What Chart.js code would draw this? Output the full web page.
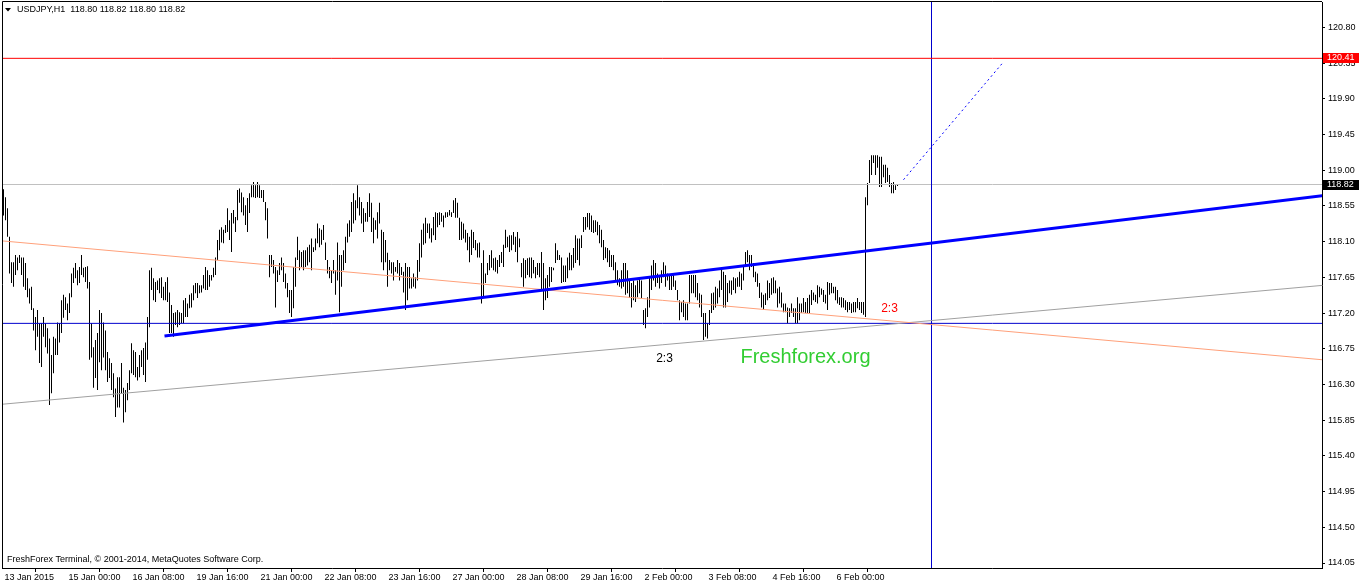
<!DOCTYPE html>
<html>
<head>
<meta charset="utf-8">
<title>USDJPY,H1</title>
<script src="https://cdn.jsdelivr.net/npm/chart.js@4.4.1/dist/chart.umd.min.js"></script>
<style>
  html, body { margin: 0; padding: 0; background: #fff; }
  #wrap { width: 1362px; height: 586px; }
</style>
</head>
<body>
<div id="wrap"><canvas id="chart" width="1362" height="586"></canvas></div>
<script>
/***********************
 * DATA (H1 bars, high / low)
 ***********************/
const highs = [
  118.76,118.66,118.52,118.16,117.84,117.84,117.93,117.90,117.93,117.90,
  117.90,117.83,117.64,117.51,117.53,117.26,117.15,117.24,117.07,117.07,
  117.15,117.07,117.01,116.88,116.67,116.90,116.88,117.08,117.07,117.36,
  117.43,117.40,117.32,117.45,117.70,117.77,117.83,117.74,117.78,117.93,
  117.77,117.78,117.79,117.59,117.07,116.77,116.86,116.95,117.24,117.20,
  117.08,116.98,116.71,116.63,116.57,116.44,116.25,116.39,116.39,116.57,
  116.26,116.23,116.32,116.48,116.82,116.73,116.71,116.52,116.67,116.73,
  116.76,116.83,117.15,117.74,117.77,117.64,117.59,117.61,117.64,117.65,
  117.53,117.59,117.65,117.46,117.30,117.20,117.21,117.24,117.21,117.20,
  117.36,117.39,117.32,117.43,117.45,117.55,117.58,117.58,117.55,117.55,
  117.68,117.78,117.74,117.68,117.68,117.77,117.90,118.12,118.25,118.28,
  118.25,118.31,118.52,118.37,118.46,118.50,118.41,118.75,118.77,118.72,
  118.66,118.56,118.65,118.71,118.81,118.85,118.81,118.85,118.81,118.75,
  118.75,118.60,118.52,117.93,117.93,117.87,117.78,117.74,117.83,117.90,
  117.83,117.70,117.58,117.49,117.49,117.78,117.90,118.16,
  117.99,117.97,117.99,117.99,118.03,118.06,118.14,118.03,118.14,118.33,118.27,118.25,
  118.31,118.09,117.87,117.78,117.74,117.87,117.74,118.09,117.93,117.93,
  117.99,118.16,118.33,118.37,118.60,118.71,118.62,118.81,118.66,118.60,
  118.52,118.46,118.60,118.71,118.59,118.40,118.37,118.47,118.59,118.25,
  118.22,118.12,117.96,117.87,117.84,117.84,117.78,117.87,117.83,117.78,
  117.72,117.83,117.78,117.78,117.64,117.70,117.65,117.87,118.08,118.25,
  118.33,118.40,118.33,118.33,118.27,118.41,118.47,118.46,118.47,118.46,
  118.43,118.47,118.47,118.50,118.47,118.62,118.65,118.59,118.40,118.35,
  118.33,118.25,118.21,118.16,118.25,118.22,118.12,118.08,118.09,117.83,
  117.99,117.70,117.83,117.93,117.99,117.89,117.90,117.87,117.93,117.97,
  118.06,118.25,118.16,118.18,118.18,118.22,118.16,118.22,118.14,117.83,
  117.89,117.87,117.89,117.90,117.90,117.87,117.78,117.83,117.83,117.97,
  117.83,117.64,117.68,117.78,117.78,117.77,118.08,117.99,117.93,117.90,
  117.80,117.80,117.90,117.96,117.93,118.02,118.18,118.14,118.14,118.18,
  118.41,118.41,118.46,118.46,118.43,118.37,118.37,118.35,118.31,118.25,
  118.12,118.03,118.02,117.99,117.93,117.93,117.84,117.74,117.64,117.74,
  117.83,117.83,117.74,117.61,117.58,117.61,117.55,117.61,117.65,117.61,
  117.24,117.26,117.40,117.65,117.80,117.87,117.83,117.70,117.68,117.74,
  117.84,117.80,117.70,117.68,117.68,117.70,117.61,117.49,117.36,117.34,
  117.36,117.32,117.32,117.68,117.68,117.68,117.68,117.58,117.45,117.43,
  117.20,117.20,117.07,117.24,117.45,117.46,117.53,117.51,117.61,117.77,
  117.72,117.68,117.58,117.61,117.61,117.65,117.64,117.65,117.72,117.70,
  117.80,117.97,117.99,117.93,117.93,117.83,117.72,117.70,117.58,117.46,
  117.43,117.45,117.61,117.58,117.64,117.65,117.61,117.51,117.53,117.46,
  117.32,117.32,117.27,117.26,117.32,117.26,117.26,117.40,117.32,117.32,
  117.39,117.34,117.39,117.43,117.49,117.46,117.43,117.55,117.53,117.51,
  117.49,117.43,117.59,117.58,117.58,117.53,117.53,117.49,117.40,117.40,
  117.39,117.36,117.34,117.34,117.32,117.34,117.34,117.39,117.34,117.34,
  117.34,118.66,118.84,119.13,119.19,119.19,119.19,119.19,119.17,119.17,
  119.07,119.07,119.03,118.94,118.84,118.85,118.81,118.82
];

const lows = [
  118.43,118.37,118.16,117.70,117.58,117.53,117.68,117.74,117.83,117.68,
  117.53,117.49,117.40,117.32,117.24,116.98,116.73,116.90,116.57,116.52,
  116.90,116.77,116.69,116.04,116.19,116.44,116.67,116.67,116.83,116.95,
  117.14,117.24,117.11,117.20,117.40,117.58,117.64,117.55,117.58,117.68,
  117.65,117.59,117.51,116.61,116.64,116.26,116.38,116.23,116.58,116.48,
  116.64,116.48,116.33,116.38,116.23,116.14,115.89,116.01,116.01,116.19,
  115.82,115.95,116.10,116.23,116.44,116.42,116.39,116.35,116.39,116.52,
  116.42,116.33,116.61,117.02,117.49,117.36,117.34,117.49,117.45,117.39,
  117.36,117.36,117.34,116.95,116.95,116.90,117.05,117.02,117.05,117.07,
  117.07,117.15,117.15,117.26,117.27,117.36,117.45,117.39,117.45,117.46,
  117.51,117.49,117.49,117.53,117.61,117.65,117.68,117.87,117.99,118.09,
  118.08,118.21,118.22,118.12,117.97,118.33,118.22,118.37,118.59,118.47,
  118.43,118.31,118.22,118.46,118.66,118.66,118.65,118.66,118.65,118.65,
  118.60,118.37,118.14,117.65,117.78,117.70,117.27,117.59,117.68,117.74,
  117.59,117.51,117.40,117.20,117.15,117.26,117.53,117.87,
  117.74,117.78,117.74,117.78,117.80,117.84,117.74,117.97,117.99,118.08,118.03,118.06,
  118.12,117.87,117.70,117.64,117.58,117.70,117.43,117.61,117.21,117.53,
  117.74,117.83,118.09,118.16,118.22,118.33,118.37,118.52,118.43,118.33,
  118.22,118.35,118.35,118.41,118.22,118.08,118.25,118.14,118.33,117.84,
  117.74,117.84,117.53,117.74,117.70,117.61,117.72,117.70,117.61,117.68,
  117.46,117.24,117.36,117.51,117.51,117.53,117.51,117.61,117.72,117.90,
  118.06,118.08,118.21,118.14,118.09,118.18,118.12,118.28,118.31,118.35,
  118.28,118.40,118.41,118.43,118.41,118.46,118.40,118.40,118.12,118.12,
  118.14,118.09,117.99,117.84,117.93,118.02,117.99,117.90,117.90,117.32,
  117.40,117.58,117.68,117.74,117.77,117.74,117.72,117.70,117.78,117.83,
  117.78,118.02,118.03,117.97,117.99,118.06,117.97,117.84,118.03,117.65,
  117.53,117.64,117.68,117.65,117.64,117.70,117.64,117.68,117.65,117.49,
  117.24,117.36,117.39,117.53,117.59,117.74,117.83,117.87,117.87,117.58,
  117.59,117.59,117.64,117.74,117.74,117.77,117.83,117.87,117.80,118.02,
  118.22,118.25,118.28,118.25,118.22,118.21,118.22,118.18,118.08,118.03,
  117.87,117.89,117.84,117.78,117.78,117.74,117.61,117.55,117.53,117.51,
  117.53,117.43,117.45,117.39,117.27,117.36,117.34,117.40,117.45,117.39,
  117.05,117.01,117.15,117.27,117.49,117.61,117.53,117.58,117.51,117.58,
  117.65,117.53,117.61,117.49,117.49,117.53,117.49,117.36,117.11,117.21,
  117.15,117.11,117.11,117.32,117.45,117.45,117.40,117.36,117.27,117.15,
  116.86,116.90,116.88,117.05,117.20,117.24,117.27,117.32,117.40,117.49,
  117.27,117.27,117.34,117.45,117.43,117.49,117.45,117.53,117.53,117.49,
  117.61,117.78,117.84,117.74,117.78,117.65,117.59,117.53,117.39,117.27,
  117.24,117.30,117.36,117.39,117.43,117.45,117.45,117.27,117.32,117.27,
  117.21,117.21,117.07,117.15,117.20,117.15,117.07,117.07,117.11,117.20,
  117.21,117.20,117.20,117.20,117.30,117.36,117.34,117.32,117.40,117.43,
  117.34,117.32,117.24,117.43,117.45,117.45,117.36,117.32,117.30,117.27,
  117.27,117.24,117.21,117.24,117.20,117.21,117.21,117.26,117.24,117.20,
  117.18,117.15,118.56,118.84,118.94,119.09,118.94,119.03,118.79,118.79,
  118.91,118.84,118.85,118.79,118.71,118.71,118.75,118.80
];

// time axis: bar index of each label and its text
const xTickIdx = [0, 32, 64, 96, 128, 160, 192, 224, 256, 288, 320, 352, 384, 416];
const xTickLabels = [
  "13 Jan 2015", "15 Jan 00:00", "16 Jan 08:00", "19 Jan 16:00", "21 Jan 00:00",
  "22 Jan 08:00", "23 Jan 16:00", "27 Jan 00:00", "28 Jan 08:00", "29 Jan 16:00",
  "2 Feb 00:00", "3 Feb 08:00", "4 Feb 16:00", "6 Feb 00:00"
];

// price axis
const yTicks = [120.80, 120.35, 119.90, 119.45, 119.00, 118.55, 118.10, 117.65,
                117.20, 116.75, 116.30, 115.85, 115.40, 114.95, 114.50, 114.05];

// chart objects (bar index, price)
const blueTrend   = [[80.5, 116.91], [660, 118.68]];
const salmonTrend = [[-1, 118.11], [660, 116.61]];
const grayTrend   = [[-1, 116.05], [660, 117.55]];
const dottedTrend = [[450, 118.88], [499.5, 120.35]];
const resistance  = 120.41;
const lastPrice   = 118.82;
const crossPrice  = 117.07;
const crossBar    = 464;

const FONT = "'Liberation Sans', Arial, sans-serif";

/***********************
 * HELPERS
 ***********************/
function lineSet(points, color, width, dash) {
  return {
    type: "line",
    data: points.map(p => ({ x: p[0], y: p[1] })),
    borderColor: color,
    borderWidth: width,
    borderDash: dash || [],
    pointRadius: 0,
    tension: 0,
    order: 1
  };
}

function hLine(price, color) {
  return lineSet([[-1, price], [660, price]], color, 1);
}

// keep the plot area exactly where the terminal draws it
function noPad(s) {
  s.paddingTop = 0;
  s.paddingBottom = 0;
  s.paddingLeft = 0;
  s.paddingRight = 0;
}

/***********************
 * OVERLAY (frame, texts, price tags)
 ***********************/
const overlay = {
  id: "overlay",
  afterDraw(chart) {
    const ctx = chart.ctx;
    const a = chart.chartArea;
    const x = chart.scales.x;
    const y = chart.scales.y;
    ctx.save();

    // frame left + top
    ctx.strokeStyle = "#000";
    ctx.lineWidth = 1;
    ctx.beginPath();
    ctx.moveTo(a.left + 0.5, a.bottom);
    ctx.lineTo(a.left + 0.5, a.top - 0.5);
    ctx.lineTo(a.right, a.top - 0.5);
    ctx.stroke();

    // header
    ctx.fillStyle = "#000";
    ctx.beginPath();
    ctx.moveTo(5, 8);
    ctx.lineTo(11, 8);
    ctx.lineTo(8, 11.5);
    ctx.closePath();
    ctx.fill();
    ctx.font = "9px " + FONT;
    ctx.textBaseline = "middle";
    ctx.textAlign = "left";
    ctx.fillText("USDJPY,H1  118.80 118.82 118.80 118.82", 17, 10);
    ctx.fillText("FreshForex Terminal, \u00a9 2001-2014, MetaQuotes Software Corp.", 7, 560);

    // text objects on the chart
    ctx.textAlign = "center";
    ctx.textBaseline = "alphabetic";
    ctx.font = "12px " + FONT;
    ctx.fillStyle = "#000";
    ctx.fillText("2:3", x.getPixelForValue(330.5), y.getPixelForValue(116.58));
    ctx.fillStyle = "#ff0000";
    ctx.fillText("2:3", x.getPixelForValue(443), y.getPixelForValue(117.21));
    ctx.font = "20px " + FONT;
    ctx.fillStyle = "#32cd32";
    ctx.fillText("Freshforex.org", x.getPixelForValue(401), y.getPixelForValue(116.57));

    // price tags on the axis
    ctx.font = "9px " + FONT;
    ctx.textAlign = "left";
    ctx.textBaseline = "middle";
    [[resistance, "#ff0000"], [lastPrice, "#000"]].forEach(t => {
      const py = Math.round(y.getPixelForValue(t[0]));
      ctx.fillStyle = t[1];
      ctx.fillRect(a.right + 1, py - 5, 36, 10);
      ctx.fillStyle = "#fff";
      ctx.fillText(t[0].toFixed(2), a.right + 5, py);
    });

    ctx.restore();
  }
};

/***********************
 * CHART
 ***********************/
new Chart(document.getElementById("chart"), {
  type: "bar",
  data: {
    datasets: [
      lineSet(blueTrend, "#0000ff", 3),
      lineSet(dottedTrend, "#0000ff", 1, [2, 3]),
      lineSet(salmonTrend, "#ffa07a", 1),
      lineSet(grayTrend, "#a0a0a0", 1),
      hLine(resistance, "#ff0000"),
      hLine(crossPrice, "#0000cd"),
      lineSet([[crossBar, 113], [crossBar, 122]], "#0000cd", 1),
      hLine(lastPrice, "#c0c0c0"),
      {
        type: "bar",
        data: highs.map((h, i) => ({ x: i, y: [lows[i], h] })),
        backgroundColor: "#000",
        borderWidth: 0,
        barThickness: 1,
        inflateAmount: 0,
        order: 10
      }
    ]
  },
  options: {
    responsive: false,
    animation: false,
    devicePixelRatio: 1,
    layout: { padding: { left: 2, top: 2, right: 0, bottom: 0 }, autoPadding: false },
    plugins: { legend: { display: false }, tooltip: { enabled: false } },
    scales: {
      x: {
        type: "linear",
        min: -0.75,
        max: 659.25,
        offset: false,
        grid: { drawOnChartArea: false, drawTicks: true, tickLength: 4, color: "#000" },
        border: { display: true, color: "#000" },
        ticks: {
          font: { family: FONT, size: 9 },
          color: "#000",
          padding: 0,
          align: "start",
          labelOffset: 1,
          maxRotation: 0,
          autoSkip: false,
          callback: (v, i) => xTickLabels[i]
        },
        afterBuildTicks: s => { s.ticks = xTickIdx.map(v => ({ value: v })); },
        afterFit: s => { s.height = 18; noPad(s); }
      },
      y: {
        type: "linear",
        position: "right",
        min: 113.987,
        max: 121.12,
        grid: { drawOnChartArea: false, drawTicks: true, tickLength: 3, color: "#000" },
        border: { display: true, color: "#000" },
        ticks: {
          font: { family: FONT, size: 9 },
          color: "#000",
          padding: 3,
          autoSkip: false,
          callback: v => v.toFixed(2)
        },
        afterBuildTicks: s => { s.ticks = yTicks.map(v => ({ value: v })); },
        afterFit: s => { s.width = 40; noPad(s); }
      }
    }
  },
  plugins: [overlay]
});
</script>
</body>
</html>
